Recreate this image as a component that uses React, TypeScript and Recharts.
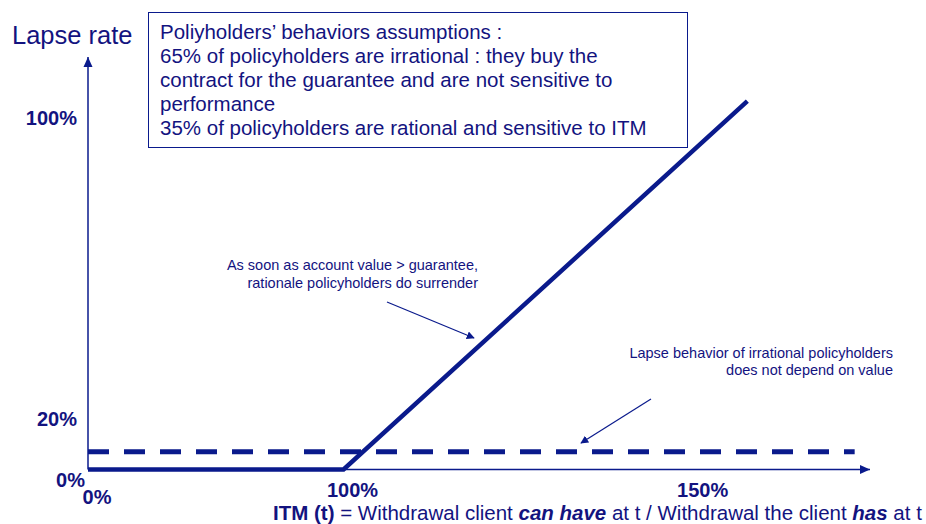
import { LineChart, Line, XAxis, YAxis, ReferenceDot } from "recharts";

// lapse rate (%) against ITM (%)
const rationalItm = [0, 100, 258];
const rationalLapse = [0, 0, 100];
const irrationalItm = [0, 300];
const irrationalLapse = [4.8, 4.8];

const xTicks = [0, 100, 237];
const xTickLabels = ["0%", "100%", "150%"];
const yTicks = [0, 13.7, 95.4];
const yTickLabels = ["0%", "20%", "100%"];

const boxLines = [
  "Poliyholders\u2019 behaviors assumptions :",
  "65% of policyholders are irrational : they buy the",
  "contract for the guarantee and are not sensitive to",
  "performance",
  "35% of policyholders are rational and sensitive to ITM",
];

const rational = rationalItm.map((itm, i) => ({ itm, lapse: rationalLapse[i] }));
const irrational = irrationalItm.map((itm, i) => ({ itm, lapse: irrationalLapse[i] }));

const navy = "#0a1a8c";
const ink = "#13137f";
const font = "'Liberation Sans', Arial, sans-serif";

function XTick(props: any) {
  const { x, y, index } = props;
  return (
    <text x={x + 9} y={y + (index === 0 ? 27.5 : 20.5)} textAnchor="middle" dominantBaseline="central"
      fontFamily={font} fontWeight="bold" fontSize={20} fill={ink}>
      {xTickLabels[index]}
    </text>
  );
}

function YTick(props: any) {
  const { x, y, index } = props;
  return (
    <text x={x + (index === 0 ? -3 : -11)} y={y + (index === 0 ? 10.5 : 0)} textAnchor="end" dominantBaseline="central"
      fontFamily={font} fontWeight="bold" fontSize={20} fill={ink}>
      {yTickLabels[index]}
    </text>
  );
}

const xArrow = (p: any) => <path d={`M${p.cx},${p.cy} l-10,-4.5 l0,9 z`} fill={navy} />;
const yArrow = (p: any) => <path d={`M${p.cx},${p.cy} l-4.5,10 l9,0 z`} fill={navy} />;

export default function App() {
  return (
    <div style={{ position: "absolute", left: 0, top: 0, width: 926, height: 524, background: "#fff", fontFamily: font, color: ink }}>
      <LineChart width={926} height={524} margin={{ top: 57, right: 56, bottom: 24.5, left: 48 }}>
        <XAxis dataKey="itm" type="number" domain={[0, 306]} ticks={xTicks} tick={<XTick />} interval={0}
          height={30} tickSize={0} tickMargin={0} tickLine={false} axisLine={{ stroke: navy, strokeWidth: 1.5 }} />
        <YAxis type="number" domain={[0, 112]} ticks={yTicks} tick={<YTick />} interval={0}
          width={40} tickSize={0} tickMargin={0} tickLine={false} axisLine={{ stroke: navy, strokeWidth: 1.5 }} />
        <Line data={irrational} dataKey="lapse" type="linear" stroke={navy} strokeWidth={5} strokeDasharray="21 15"
          dot={false} activeDot={false} isAnimationActive={false} />
        <Line data={rational} dataKey="lapse" type="linear" stroke={navy} strokeWidth={4.5} strokeLinejoin="miter"
          dot={false} activeDot={false} isAnimationActive={false} />
        <ReferenceDot x={306} y={0} ifOverflow="visible" shape={xArrow} />
        <ReferenceDot x={0} y={112} ifOverflow="visible" shape={yArrow} />
      </LineChart>

      <div style={{ position: "absolute", left: 12, top: 20, fontSize: 25.5, lineHeight: "30px", whiteSpace: "nowrap" }}>Lapse rate</div>

      <div style={{ position: "absolute", left: 148, top: 12, width: 527, height: 127, border: `1px solid ${navy}`,
        padding: "7px 0 0 11px", fontSize: 20.5, lineHeight: "24px", whiteSpace: "nowrap" }}>
        {boxLines.map((l) => <div key={l}>{l}</div>)}
      </div>

      <div style={{ position: "absolute", right: 448, top: 256, fontSize: 14.5, lineHeight: "18px", textAlign: "right", whiteSpace: "nowrap" }}>
        As soon as account value &gt; guarantee,<br />rationale policyholders do surrender
      </div>
      <div style={{ position: "absolute", right: 33, top: 345, fontSize: 14.5, lineHeight: "17px", textAlign: "right", whiteSpace: "nowrap" }}>
        Lapse behavior of irrational policyholders<br />does not depend on value
      </div>

      <svg width={926} height={524} style={{ position: "absolute", left: 0, top: 0, pointerEvents: "none" }}>
        <defs>
          <marker id="ah" viewBox="0 0 10 10" refX="9" refY="5" markerWidth="8" markerHeight="8" markerUnits="userSpaceOnUse" orient="auto">
            <path d="M0,0 L10,5 L0,10 z" fill={navy} />
          </marker>
        </defs>
        <line x1={387} y1={302} x2={474} y2={338} stroke={navy} strokeWidth={1.2} markerEnd="url(#ah)" />
        <line x1={651} y1={399} x2={581} y2={443} stroke={navy} strokeWidth={1.2} markerEnd="url(#ah)" />
      </svg>

      <div style={{ position: "absolute", left: 273, top: 501, fontSize: 20.5, lineHeight: "24px", whiteSpace: "nowrap" }}>
        <b>ITM (t)</b> = Withdrawal client <b><i>can have</i></b> at t / Withdrawal the client <b><i>has</i></b> at t
      </div>
    </div>
  );
}
